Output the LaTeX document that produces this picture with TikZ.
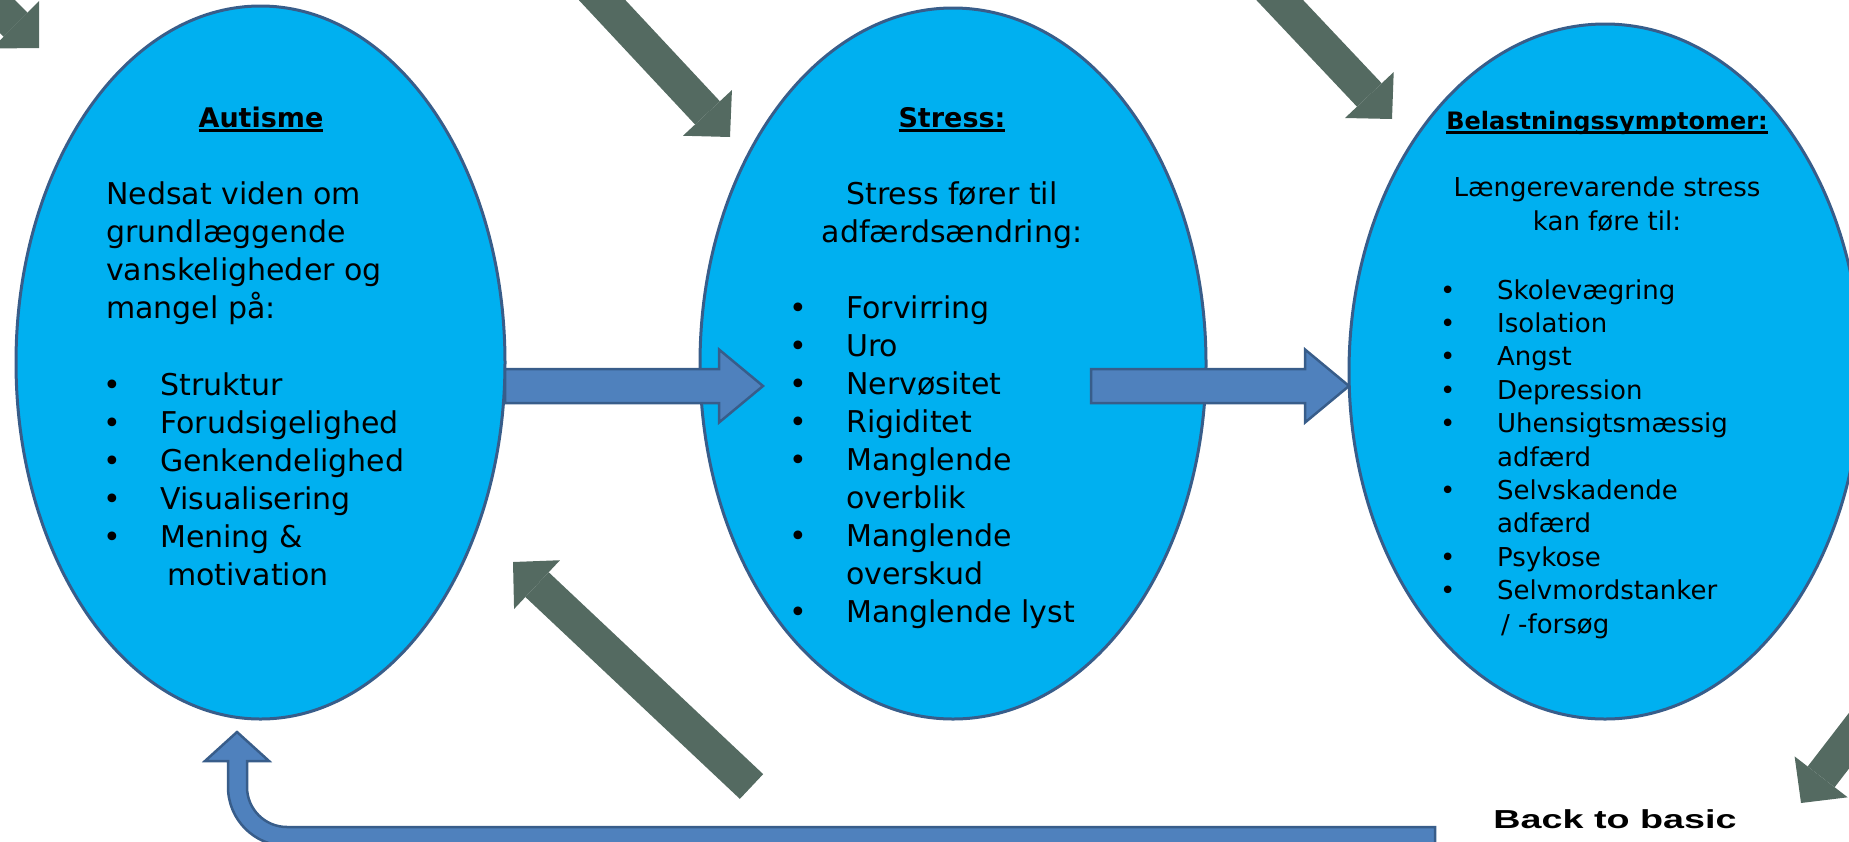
\documentclass[tikz,border=0pt]{standalone}
\usepackage{fontspec}
\setmainfont{DejaVu Sans}
\newfontfamily\backfont{Liberation Sans}
\usetikzlibrary{arrows.meta,shapes.geometric,calc}
\definecolor{cyanfill}{RGB}{0,176,240}
\definecolor{rimblue}{RGB}{56,93,138}
\definecolor{arrblue}{RGB}{79,129,189}
\definecolor{arrgray}{RGB}{84,106,97}
\newsavebox{\ulbox}
\newcommand{\uln}[1]{\sbox{\ulbox}{#1}\rlap{\rule[-4.5pt]{\wd\ulbox}{2.2pt}}\usebox{\ulbox}}
\newcommand{\itm}[1]{\makebox[57pt][l]{\textbullet}#1}
\newcommand{\cnt}[1]{\hspace*{57pt}#1}
% horizontal block arrow from #1 to tip #2
\newcommand{\blockarrow}[2]{%
  \draw[bluearr] ($(#1)+(0,-17)$) -- ($(#2)+(-44,-17)$) -- ($(#2)+(-44,-36.5)$) -- (#2)
    -- ($(#2)+(-44,36.5)$) -- ($(#2)+(-44,17)$) -- ($(#1)+(0,17)$) -- cycle;}

\begin{document}
\begin{tikzpicture}[x=1pt, y=-1pt,
  oval/.style={ellipse, draw=rimblue, line width=3pt, fill=cyanfill, inner sep=0pt},
  bluearr/.style={draw=rimblue, line width=2.5pt, fill=arrblue},
  grayarr/.style={draw=arrgray, line width=34pt, -{Triangle[length=33pt, width=67pt, line width=0pt]}},
  ttl/.style={font=\fontsize{27}{34}\selectfont\bfseries, anchor=base, inner sep=0pt},
  body/.style={font=\fontsize{30}{38}\selectfont, align=left, anchor=base west, inner sep=0pt},
  small/.style={font=\fontsize{26}{33.4}\selectfont, align=left, anchor=base west, inner sep=0pt}]
  \useasboundingbox (0,0) rectangle (1849,841);
  \clip (0,0) rectangle (1849,841);

  % the three stages
  \node[oval, minimum width=489pt, minimum height=713pt] (aut) at (260.5,362.5) {};
  \node[oval, minimum width=506pt, minimum height=711pt] (str) at (953,363.5) {};
  \node[oval, minimum width=512pt, minimum height=695pt] (bel) at (1605,371.5) {};

  % blue arrows between the stages
  \coordinate (s1) at (505,386);
  \coordinate (t1) at (763,386);
  \coordinate (s2) at (1091,386);
  \coordinate (t2) at (1349,386);
  \blockarrow{s1}{t1}
  \blockarrow{s2}{t2}

  % back to the start
  \coordinate (bk) at (1435,827);
  \coordinate (up) at (237,732);
  \draw[bluearr] (bk) -- (287,827) arc[start angle=90, end angle=180, radius=40]
    -- (247,761) -- (269,761) -- (up) -- (205,761) -- (228,761) -- (228,787)
    arc[start angle=180, end angle=90, radius=59] -- (1435,846) -- cycle;

  % gray arrows
  \coordinate (g1) at (-100,-90);  \coordinate (h1) at (39,48);
  \coordinate (g2) at (560,-45);   \coordinate (h2) at (730,137);
  \coordinate (g3) at (1240,-42);  \coordinate (h3) at (1392,119);
  \coordinate (g4) at (1935,629);  \coordinate (h4) at (1801,803);
  \coordinate (g5) at (751.5,786.5); \coordinate (h5) at (513,562);
  \draw[grayarr] (g1) -- (h1);
  \draw[grayarr] (g2) -- (h2);
  \draw[grayarr] (g3) -- (h3);
  \draw[grayarr] (g4) -- (h4);
  \draw[grayarr] (g5) -- (h5);

  % texts (multi-line nodes sit on their last baseline)
  \node[ttl] (autT) at (261,127) {\uln{Autisme}};
  \node[body] (autD) at (106,318) {Nedsat viden om\\grundlæggende\\vanskeligheder og\\mangel på:};
  \node[body] (autL) at (103,585) {\itm{Struktur}\\\itm{Forudsigelighed}\\\itm{Genkendelighed}\\\itm{Visualisering}\\\itm{Mening \&}\\\hspace*{64pt}motivation};

  \node[ttl] (strT) at (952,127) {\uln{Stress:}};
  \node[body, align=center, anchor=base] (strD) at (952,242) {Stress fører til\\adfærdsændring:};
  \node[body] (strL) at (789,622) {\itm{Forvirring}\\\itm{Uro}\\\itm{Nervøsitet}\\\itm{Rigiditet}\\\itm{Manglende}\\\cnt{overblik}\\\itm{Manglende}\\\cnt{overskud}\\\itm{Manglende lyst}};

  \node[ttl, font=\fontsize{24}{30}\selectfont\bfseries] (belT) at (1607,129) {\uln{Belastningssymptomer:}};
  \node[small, align=center, anchor=base] (belD) at (1607,230) {Længerevarende stress\\kan føre til:};
  \node[small] (belL) at (1440,633) {\itm{Skolevægring}\\\itm{Isolation}\\\itm{Angst}\\\itm{Depression}\\\itm{Uhensigtsmæssig}\\\cnt{adfærd}\\\itm{Selvskadende}\\\cnt{adfærd}\\\itm{Psykose}\\\itm{Selvmordstanker}\\\hspace*{61pt}/ -forsøg};

  \node[font=\backfont\bfseries\fontsize{26}{30}\selectfont, anchor=base, inner sep=0pt] (back) at (1615,828) {\scalebox{1.45}[1]{Back to basic}};
\end{tikzpicture}
\end{document}
